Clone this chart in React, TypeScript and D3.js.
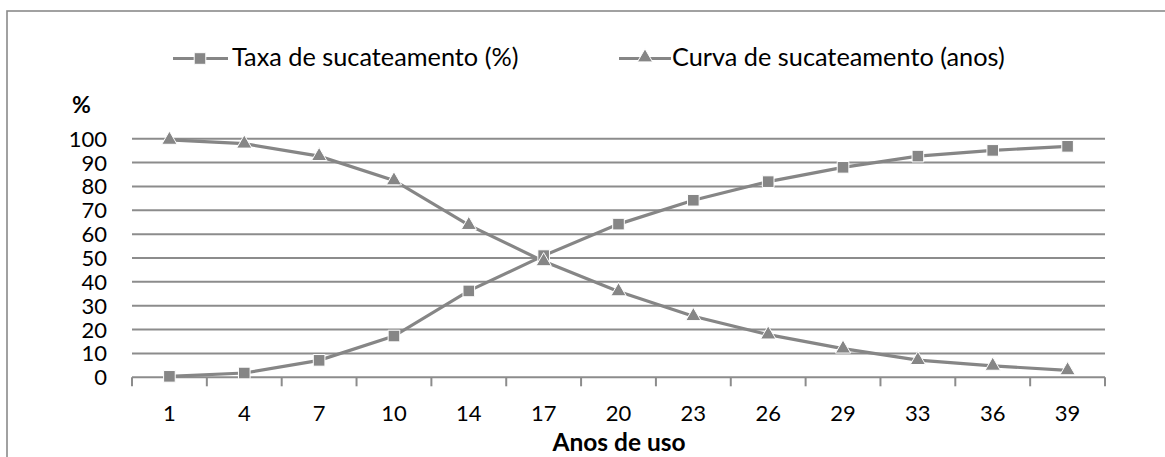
import React from "react";
import * as d3 from "d3";

const categories = ["1", "4", "7", "10", "14", "17", "20", "23", "26", "29", "33", "36", "39"];
const taxaSucateamento = [0.4, 1.8, 7.1, 17.3, 36.2, 51, 64.2, 74.2, 82, 88, 92.7, 95.1, 96.8];
const curvaSucateamento = [99.5, 97.9, 92.7, 82.5, 63.8, 48.6, 36, 25.6, 17.9, 12, 7.2, 4.8, 2.9];
const yTicks = [0, 10, 20, 30, 40, 50, 60, 70, 80, 90, 100];

const W = 1165;
const H = 457;
const FONT = "Lato, 'Open Sans', sans-serif";
const GRAY = "#868686";
const GRID = "#8c8c8c";

const left = 132;
const right = 1105;
const top = 138.7;
const bottom = 377.3;

export default function App() {
  const x = d3.scaleBand<string>().domain(categories).range([left, right]);
  const y = d3.scaleLinear().domain([0, 100]).range([bottom, top]);
  const cx = (c: string) => (x(c) as number) + x.bandwidth() / 2;

  const line = d3
    .line<number>()
    .x((_, i) => cx(categories[i]))
    .y((v) => y(v));

  const square = d3.symbol().type(d3.symbolSquare).size(135);
  const triangle = d3.symbol().type(d3.symbolTriangle).size(100);

  const tickEdges = [...categories.map((c) => x(c) as number), right];

  return (
    <div style={{ position: "absolute", left: 0, top: 0 }}>
      <svg width={W} height={H} style={{ display: "block", background: "#fff" }}>
        <rect x={7} y={11} width={1300} height={600} fill="#fff" stroke="#8a8a8a" strokeWidth={1.6} />

        {/* legend */}
        <g fontFamily={FONT} fontSize={25.3} fill="#000">
          <line x1={173} x2={228} y1={58.5} y2={58.5} stroke={GRAY} strokeWidth={3} />
          <path d={square() as string} transform="translate(200,58.5)" fill={GRAY} stroke="#fff" strokeWidth={1} />
          <text x={232} y={66}>Taxa de sucateamento (%)</text>
          <line x1={619} x2={671} y1={58.5} y2={58.5} stroke={GRAY} strokeWidth={3} />
          <path d={triangle() as string} transform="translate(645,57.5)" fill={GRAY} stroke="#fff" strokeWidth={1} />
          <text x={672} y={66}>Curva de sucateamento (anos)</text>
        </g>

        <text x={72} y={113} fontFamily={FONT} fontSize={23} fontWeight="bold">%</text>

        {/* grid and y labels */}
        {yTicks.map((t) => (
          <g key={t}>
            {t > 0 && (
              <line x1={left} x2={right} y1={y(t)} y2={y(t)} stroke={GRID} strokeWidth={2} />
            )}
            <text
              x={107}
              y={y(t) + 8}
              textAnchor="end"
              fontFamily={FONT}
              fontSize={22}
              fill="#000"
            >
              {t}
            </text>
          </g>
        ))}

        {/* x axis */}
        <line x1={left} x2={right} y1={bottom} y2={bottom} stroke={GRID} strokeWidth={2} />
        {tickEdges.map((e, i) => (
          <line key={i} x1={e} x2={e} y1={bottom} y2={bottom + 9} stroke={GRID} strokeWidth={2} />
        ))}
        {categories.map((c) => (
          <text
            key={c}
            x={cx(c)}
            y={421}
            textAnchor="middle"
            fontFamily={FONT}
            fontSize={22}
            fill="#000"
          >
            {c}
          </text>
        ))}
        <text x={619} y={451} textAnchor="middle" fontFamily={FONT} fontSize={24.5} fontWeight="bold">
          Anos de uso
        </text>

        {/* series */}
        <path d={line(taxaSucateamento) as string} fill="none" stroke={GRAY} strokeWidth={3.2} />
        <path d={line(curvaSucateamento) as string} fill="none" stroke={GRAY} strokeWidth={3.2} />
        {taxaSucateamento.map((v, i) => (
          <path
            key={"s" + i}
            d={square() as string}
            transform={`translate(${cx(categories[i])},${y(v)})`}
            fill={GRAY}
            stroke="#fff"
            strokeWidth={1}
          />
        ))}
        {curvaSucateamento.map((v, i) => (
          <path
            key={"t" + i}
            d={triangle() as string}
            transform={`translate(${cx(categories[i])},${y(v)})`}
            fill={GRAY}
            stroke="#fff"
            strokeWidth={1}
          />
        ))}
      </svg>
    </div>
  );
}
